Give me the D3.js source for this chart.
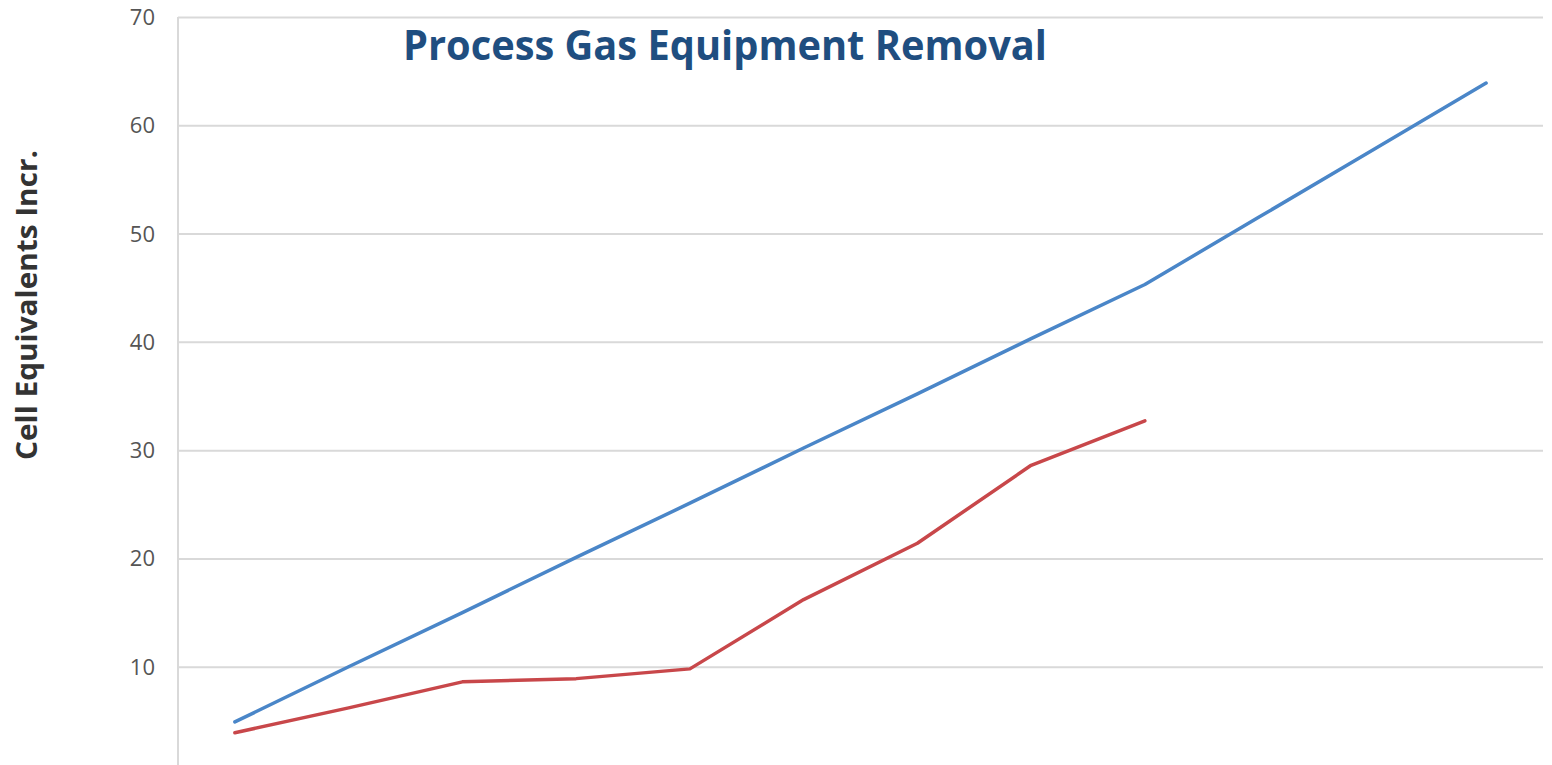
<!DOCTYPE html>
<html>
<head>
<meta charset="utf-8">
<script src="https://cdn.jsdelivr.net/npm/d3@7"></script>
<style>
    body { margin: 0; background: #fff; }
    svg { display: block; }
</style>
</head>
<body>
<div id="chart"></div>
<script>
    "use strict";

    // periods along the x axis (labels are not visible in the source)
    var periods = ["P1", "P2", "P3", "P4", "P5", "P6", "P7", "P8", "P9", "P10", "P11", "P12"];

    // planned (blue) and actual (red) cell equivalents
    var planned = [4.9, 10.0, 15.0, 20.1, 25.1, 30.2, 35.2, 40.3, 45.3, 51.5, 57.7, 63.9];
    var actual = [3.9, 6.2, 8.6, 8.9, 9.8, 16.2, 21.4, 28.6, 32.7];

    var yTicks = [0, 10, 20, 30, 40, 50, 60, 70];

    var width = 1552;
    var height = 765;

    var svg = d3.select("#chart").append("svg")
        .attr("width", width)
        .attr("height", height);

    var x = d3.scalePoint()
        .domain(periods)
        .range([178, 1543])
        .padding(0.5);

    var y = d3.scaleLinear()
        .domain([0, 70])
        .range([775, 17]);

    // gridlines + tick labels
    var yAxis = d3.axisLeft(y)
        .tickValues(yTicks)
        .tickSize(-(1543 - 178))
        .tickPadding(23)
        .tickFormat(d3.format("d"));

    var gy = svg.append("g")
        .attr("transform", "translate(178,0)")
        .call(yAxis);

    gy.select(".domain").remove();
    gy.selectAll(".tick line")
        .attr("stroke", "#d9d9d9")
        .attr("stroke-width", 2);
    gy.selectAll(".tick text")
        .attr("fill", "#555")
        .attr("font-family", "'Open Sans', sans-serif")
        .attr("font-size", 22)
        .attr("dy", "0.34em");

    // vertical axis line
    svg.append("line")
        .attr("x1", 178).attr("x2", 178)
        .attr("y1", y(70)).attr("y2", height)
        .attr("stroke", "#d9d9d9")
        .attr("stroke-width", 2);

    var line = d3.line()
        .x(function (d, i) { return x(periods[i]); })
        .y(function (d) { return y(d); });

    svg.append("path")
        .datum(planned)
        .attr("d", line)
        .attr("fill", "none")
        .attr("stroke", "#4a86c8")
        .attr("stroke-width", 3.5)
        .attr("stroke-linejoin", "round")
        .attr("stroke-linecap", "round");

    svg.append("path")
        .datum(actual)
        .attr("d", line)
        .attr("fill", "none")
        .attr("stroke", "#c8474a")
        .attr("stroke-width", 3.5)
        .attr("stroke-linejoin", "round")
        .attr("stroke-linecap", "round");

    svg.append("text")
        .text("Process Gas Equipment Removal")
        .attr("x", 403)
        .attr("y", 60)
        .attr("textLength", 644)
        .attr("lengthAdjust", "spacingAndGlyphs")
        .attr("fill", "#1f4e80")
        .attr("font-family", "'Open Sans', sans-serif")
        .attr("font-weight", "bold")
        .attr("font-size", 42);

    svg.append("text")
        .text("Cell Equivalents Incr.")
        .attr("transform", "translate(37,305) rotate(-90)")
        .attr("text-anchor", "middle")
        .attr("textLength", 310)
        .attr("lengthAdjust", "spacingAndGlyphs")
        .attr("fill", "#333")
        .attr("font-family", "'Open Sans', sans-serif")
        .attr("font-weight", "bold")
        .attr("font-size", 29);
</script>
</body>
</html>
